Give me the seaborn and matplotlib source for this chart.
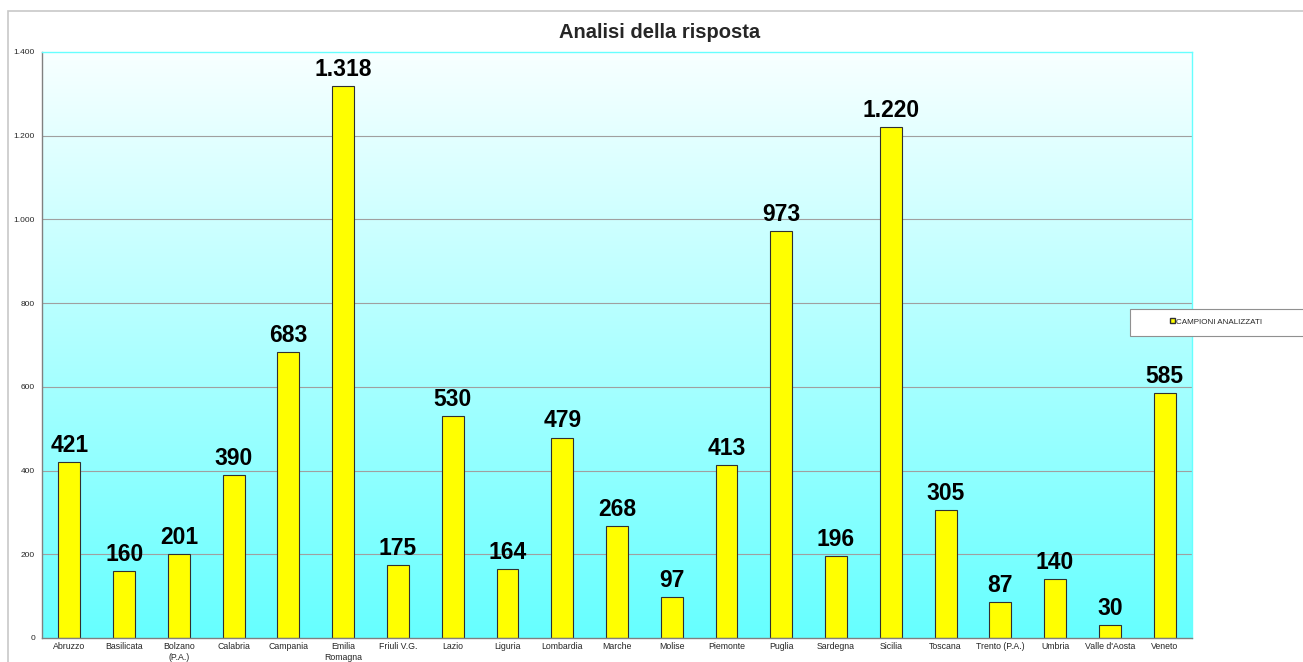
import numpy as np
import pandas as pd
import matplotlib
matplotlib.use('Agg')
import matplotlib.pyplot as plt
import seaborn as sns
from matplotlib.patches import Rectangle, Patch
from matplotlib.colors import LinearSegmentedColormap

## Data
regioni = ['Abruzzo', 'Basilicata', 'Bolzano\n(P.A.)', 'Calabria', 'Campania', 'Emilia\nRomagna',
           'Friuli V.G.', 'Lazio', 'Liguria', 'Lombardia', 'Marche', 'Molise', 'Piemonte', 'Puglia',
           'Sardegna', 'Sicilia', 'Toscana', 'Trento (P.A.)', 'Umbria', "Valle d'Aosta", 'Veneto']
campioni = [421, 160, 201, 390, 683, 1318, 175, 530, 164, 479, 268, 97, 413, 973,
            196, 1220, 305, 87, 140, 30, 585]
yticks = [0, 200, 400, 600, 800, 1000, 1200, 1400]

df = pd.DataFrame({'regione': regioni, 'campioni': campioni})

def fmt_it(v):
    return f'{v:,}'.replace(',', '.')

sns.set_style('white')
plt.rcParams['font.family'] = ['Liberation Sans', 'DejaVu Sans']

fig = plt.figure(figsize=(13.03, 6.62), dpi=100)
# outer chart frame
fig.patches.append(Rectangle((8 / 1303, -0.01), 1.02, 1 - 11 / 662 + 0.01, transform=fig.transFigure,
                             fill=False, edgecolor='#c8c8c8', linewidth=1.2))

ax = fig.add_axes([42 / 1303, 1 - 638 / 662, (1192 - 42) / 1303, (638 - 52) / 662])

# gradient background (light at top, cyan at bottom)
cmap = LinearSegmentedColormap.from_list('bg', ['#f8ffff', '#66ffff'])
grad = np.linspace(0, 1, 256).reshape(-1, 1)
ax.imshow(grad, aspect='auto', cmap=cmap, extent=[-0.5, len(regioni) - 0.5, 0, 1400],
          origin='upper', zorder=0, interpolation='bilinear')

for t in yticks[1:-1]:
    ax.axhline(t, color='#a0a0a0', linewidth=0.8, zorder=1)

sns.barplot(data=df, x='regione', y='campioni', color='#ffff00', width=0.4,
            edgecolor='#303030', linewidth=0.8, saturation=1, ax=ax, zorder=2)

for i, v in enumerate(campioni):
    ax.text(i, v + 12, fmt_it(v), ha='center', va='bottom', fontsize=16.5, fontweight='bold', color='black')

ax.set_xlim(-0.5, len(regioni) - 0.5)
ax.set_ylim(0, 1400)
ax.set_yticks(yticks)
ax.set_yticklabels([fmt_it(t) for t in yticks], fontsize=6)
ax.tick_params(axis='x', labelsize=6.3, pad=3, length=0)
ax.tick_params(axis='y', pad=5, length=0)
ax.set_xlabel('')
ax.set_ylabel('')

for s in ['top', 'right']:
    ax.spines[s].set_color('#66ffff')
    ax.spines[s].set_linewidth(1)
for s in ['left', 'bottom']:
    ax.spines[s].set_color('#808080')
    ax.spines[s].set_linewidth(1)

fig.text(660 / 1303, 1 - 32 / 662, 'Analisi della risposta', ha='center', va='center',
         fontsize=14.5, fontweight='bold')

# legend box, sticking out of the right edge
fig.patches.append(Rectangle((1130 / 1303, 1 - 336 / 662), 200 / 1303, 27 / 662, transform=fig.transFigure,
                             facecolor='white', edgecolor='#909090', linewidth=0.8, zorder=3))
leg = fig.legend(handles=[Patch(facecolor='#ffff00', edgecolor='#303030', label='CAMPIONI ANALIZZATI')],
                 loc='center', bbox_to_anchor=(1216 / 1303, 1 - 322 / 662), fontsize=5.8,
                 frameon=False, handlelength=0.6, handleheight=0.6, handletextpad=0.2,
                 borderpad=0, borderaxespad=0)

fig.savefig('out.png', dpi=100)
